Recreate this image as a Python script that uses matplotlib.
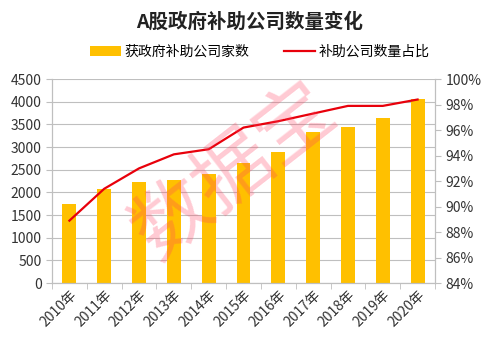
import matplotlib
matplotlib.use("Agg")
import matplotlib.pyplot as plt
from matplotlib.ticker import FuncFormatter
import numpy as np

plt.rcParams['font.family'] = ['Noto Sans CJK SC', 'DejaVu Sans']

years = ['2010年', '2011年', '2012年', '2013年', '2014年', '2015年',
         '2016年', '2017年', '2018年', '2019年', '2020年']
company_counts = [1750, 2070, 2240, 2270, 2400, 2650, 2890, 3330, 3440, 3640, 4060]
share_pct = [88.9, 91.4, 93.0, 94.1, 94.5, 96.2, 96.7, 97.3, 97.9, 97.9, 98.4]

fig = plt.figure(figsize=(5, 3.44), dpi=100)
ax = fig.add_axes([0.104, 0.177, 0.766, 0.593])
ax2 = ax.twinx()

x = np.arange(len(years))
bars = ax.bar(x, company_counts, width=0.4, color='#FFC000', label='获政府补助公司家数', zorder=2)
line, = ax2.plot(x, share_pct, color='#E8000B', lw=1.6, label='补助公司数量占比', zorder=3)

ax.set_xlim(-0.5, len(years) - 0.5)
ax.set_ylim(0, 4500)
ax.set_yticks(np.arange(0, 4501, 500))
ax2.set_ylim(84, 100)
ax2.set_yticks(np.arange(84, 100.1, 2))
ax2.yaxis.set_major_formatter(FuncFormatter(lambda v, p: f'{v:.0f}%'))

ax.grid(axis='y', color='#BFBFBF', lw=0.8, zorder=0)
ax.set_axisbelow(True)
for a in (ax, ax2):
    a.spines['top'].set_visible(False)
    for s in ('left', 'right', 'bottom'):
        a.spines[s].set_color('#BFBFBF')
    a.tick_params(colors='#BFBFBF', labelcolor='#333333', labelsize=10, length=4)

ax.set_xticks(x)
ax.set_xticklabels(years, rotation=45, ha='right', rotation_mode='anchor', fontsize=10)
ax.tick_params(axis='x', length=0)
ax.set_xticks(np.arange(-0.5, len(years), 1), minor=True)
ax.tick_params(axis='x', which='minor', length=4, color='#BFBFBF')

fig.text(0.5, 0.935, 'A股政府补助公司数量变化', ha='center', va='center',
         fontsize=14, fontweight='bold', color='#222222')
fig.legend(handles=[bars, line], loc='center', bbox_to_anchor=(0.52, 0.85), ncol=2,
           frameon=False, fontsize=10, handlelength=2.2, columnspacing=2.5,
           handletextpad=0.3)

# watermark
fig.text(0.47, 0.5, '数据宝', ha='center', va='center', fontsize=56, rotation=38,
         color='#FF4060', alpha=0.28)

fig.savefig('out.png', dpi=100)
